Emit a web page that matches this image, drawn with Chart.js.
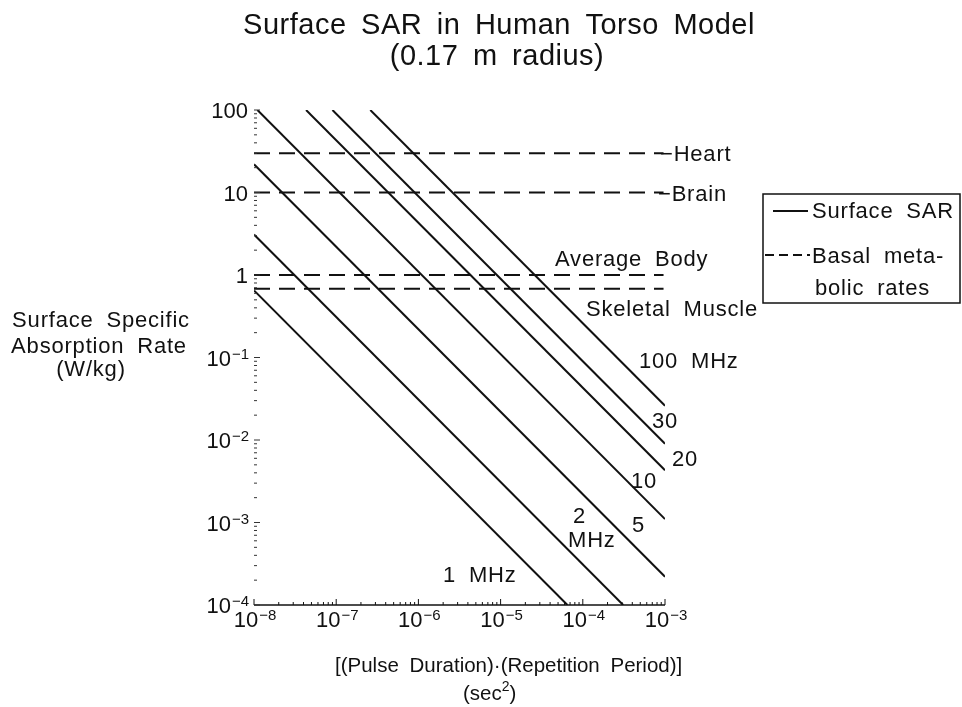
<!DOCTYPE html>
<html>
<head>
<meta charset="utf-8">
<script src="https://cdn.jsdelivr.net/npm/chart.js@4/dist/chart.umd.min.js"></script>
<style>
  html, body { margin: 0; padding: 0; background: #fff; }
  #wrap { width: 962px; height: 707px; position: relative; }
</style>
</head>
<body>
<div id="wrap"><canvas id="c" width="962" height="707"></canvas></div>
<script>
// ---- data ----
const freqLabels = ['1 MHz', '2 MHz', '5 MHz', '10 MHz', '20 MHz', '30 MHz', '100 MHz'];
const sarStartX = [1e-8, 1e-8, 1e-8, 1.1e-8, 4.3e-8, 9e-8, 2.6e-7];
const sarStartY = [0.65, 3.1, 22, 100, 100, 100, 100];
const sarEndX   = [6.5e-5, 3.1e-4, 1e-3, 1e-3, 1e-3, 1e-3, 1e-3];
const sarEndY   = [1e-4, 1e-4, 2.2e-4, 1.1e-3, 4.3e-3, 9e-3, 2.6e-2];

const tissueNames = ['Heart', 'Brain', 'Average Body', 'Skeletal Muscle'];
const tissueRates = [30, 10, 1, 0.68];
const basalStartX = 1e-8;
const basalEndX = 9.6e-4;

const xTickExps = [-8, -7, -6, -5, -4, -3];
const yTickExps = [2, 1, 0, -1, -2, -3, -4];

const titleLines = ['Surface SAR in Human Torso Model', '(0.17 m radius)'];
const yTitleLines = ['Surface Specific', 'Absorption Rate', '(W/kg)'];
const xTitleLine = '[(Pulse Duration)\u00B7(Repetition Period)]';
const legendItems = ['Surface SAR', 'Basal meta-', 'bolic rates'];

// ---- chart ----
const FONT = '"Liberation Sans", Arial, Helvetica, sans-serif';
const INK = '#111';

const datasets = [];
freqLabels.forEach((lab, i) => {
  datasets.push({
    label: lab,
    data: [{x: sarStartX[i], y: sarStartY[i]}, {x: sarEndX[i], y: sarEndY[i]}],
    showLine: true, borderColor: INK, borderWidth: 2, pointRadius: 0, fill: false
  });
});
tissueNames.forEach((lab, i) => {
  datasets.push({
    label: lab,
    data: [{x: basalStartX, y: tissueRates[i]}, {x: basalEndX, y: tissueRates[i]}],
    showLine: true, borderColor: INK, borderWidth: 2, borderDash: [16, 9], pointRadius: 0, fill: false
  });
});

function txt(ctx, s, x, y, size, opt) {
  opt = opt || {};
  ctx.save();
  ctx.font = size + 'px ' + FONT;
  ctx.fillStyle = INK;
  ctx.textAlign = opt.align || 'left';
  ctx.textBaseline = 'alphabetic';
  ctx.letterSpacing = (opt.ls || 0) + 'px';
  ctx.wordSpacing = (opt.ws || 0) + 'px';
  ctx.fillText(s, x, y);
  ctx.restore();
}

function powerLabel(ctx, exp, x, y, align) {
  // draws 10^exp ; align: 'right' (x = right edge) or 'center'
  const base = '10', sup = '\u2212' + Math.abs(exp);
  ctx.save();
  ctx.font = '22px ' + FONT;
  const wb = ctx.measureText(base).width;
  ctx.font = '15px ' + FONT;
  const ws = ctx.measureText(sup).width;
  ctx.restore();
  const total = wb + 1 + ws;
  let left = align === 'right' ? x - total : x - total / 2;
  txt(ctx, base, left, y, 22);
  txt(ctx, sup, left + wb + 1, y - 7, 15);
}

const decor = {
  id: 'decor',
  afterDraw(chart) {
    const ctx = chart.ctx;
    const xs = chart.scales.x, ys = chart.scales.y;
    const x0 = xs.getPixelForValue(1e-8), x1 = xs.getPixelForValue(1e-3);
    const yb = ys.getPixelForValue(1e-4);
    ctx.save();
    ctx.strokeStyle = INK;
    // bottom axis line
    ctx.lineWidth = 1.5;
    ctx.beginPath(); ctx.moveTo(x0, yb); ctx.lineTo(x1, yb); ctx.stroke();
    ctx.lineWidth = 1;
    // x ticks (inward)
    for (let e = -8; e <= -3; e++) {
      for (let m = 1; m <= 9; m++) {
        if (e === -3 && m > 1) break;
        const px = xs.getPixelForValue(m * Math.pow(10, e));
        const len = m === 1 ? 6 : 3;
        ctx.beginPath(); ctx.moveTo(px, yb); ctx.lineTo(px, yb - len); ctx.stroke();
      }
    }
    // y ticks (inward, no axis line)
    ctx.strokeStyle = '#333';
    for (let e = -4; e <= 2; e++) {
      for (let m = 1; m <= 9; m++) {
        if (e === 2 && m > 1) break;
        const py = ys.getPixelForValue(m * Math.pow(10, e));
        const len = m === 1 ? 6 : 3;
        ctx.beginPath(); ctx.moveTo(x0, py); ctx.lineTo(x0 + len, py); ctx.stroke();
      }
    }
    ctx.restore();

    // y tick labels
    yTickExps.forEach(e => {
      const py = ys.getPixelForValue(Math.pow(10, e)) + 8;
      if (e >= 0) txt(ctx, String(Math.pow(10, e)), 248, py, 22, {align: 'right'});
      else powerLabel(ctx, e, 249, py, 'right');
    });
    // x tick labels
    xTickExps.forEach(e => {
      const px = xs.getPixelForValue(Math.pow(10, e));
      powerLabel(ctx, e, px + 1, 627, 'center');
    });

    // title
    txt(ctx, titleLines[0], 499, 34, 29, {align: 'center', ls: 0.5, ws: 6});
    txt(ctx, titleLines[1], 497, 65, 29, {align: 'center', ls: 0.5, ws: 6});

    // y title
    txt(ctx, yTitleLines[0], 101, 327, 22, {align: 'center', ls: 0.8, ws: 6});
    txt(ctx, yTitleLines[1], 99, 353, 22, {align: 'center', ls: 0.8, ws: 6});
    txt(ctx, yTitleLines[2], 91, 376, 22, {align: 'center', ls: 0.8, ws: 6});

    // x title
    txt(ctx, xTitleLine, 335, 672, 20.5, {ws: 5});
    ctx.save();
    ctx.font = '20.5px ' + FONT;
    const wsec = ctx.measureText('(sec').width;
    ctx.font = '14px ' + FONT;
    const w2 = ctx.measureText('2').width;
    ctx.restore();
    txt(ctx, '(sec', 463, 700, 20.5);
    txt(ctx, '2', 463 + wsec, 691, 14);
    txt(ctx, ')', 463 + wsec + w2, 700, 20.5);

    // basal rate labels
    const yH = ys.getPixelForValue(tissueRates[0]);
    const yBr = ys.getPixelForValue(tissueRates[1]);
    txt(ctx, '\u2212' + tissueNames[0], 660, yH + 8, 22, {ls: 0.8});
    txt(ctx, '\u2212' + tissueNames[1], 658, yBr + 8, 22, {ls: 0.8});
    txt(ctx, tissueNames[2], 555, 266, 22, {ls: 0.8, ws: 6});
    txt(ctx, tissueNames[3], 586, 316, 22, {ls: 0.8, ws: 6});

    // frequency labels
    txt(ctx, '100 MHz', 639, 368, 22, {ls: 0.8, ws: 6});
    txt(ctx, '30', 652, 428, 22, {ls: 0.8});
    txt(ctx, '20', 672, 466, 22, {ls: 0.8});
    txt(ctx, '10', 631, 488, 22, {ls: 0.8});
    txt(ctx, '5', 632, 532, 22, {ls: 0.8});
    txt(ctx, '2', 573, 523, 22, {ls: 0.8});
    txt(ctx, 'MHz', 568, 547, 22, {ls: 0.8});
    txt(ctx, '1 MHz', 443, 582, 22, {ls: 0.8, ws: 6});

    // legend box
    ctx.save();
    ctx.strokeStyle = INK;
    ctx.lineWidth = 1.5;
    ctx.strokeRect(763, 194, 197, 109);
    ctx.lineWidth = 2;
    ctx.beginPath(); ctx.moveTo(773, 211); ctx.lineTo(808, 211); ctx.stroke();
    ctx.setLineDash([9, 5]);
    ctx.beginPath(); ctx.moveTo(765, 255); ctx.lineTo(810, 255); ctx.stroke();
    ctx.restore();
    txt(ctx, legendItems[0], 812, 218, 22, {ls: 0.8, ws: 6});
    txt(ctx, legendItems[1], 812, 263, 22, {ls: 0.8, ws: 6});
    txt(ctx, legendItems[2], 815, 295, 22, {ls: 0.8, ws: 6});
  }
};

new Chart(document.getElementById('c'), {
  type: 'scatter',
  data: { datasets },
  options: {
    responsive: false,
    animation: false,
    layout: { padding: { left: 254, right: 297, top: 110, bottom: 102 } },
    scales: {
      x: { type: 'logarithmic', min: 1e-8, max: 1e-3, display: false },
      y: { type: 'logarithmic', min: 1e-4, max: 100, display: false }
    },
    plugins: { legend: { display: false }, tooltip: { enabled: false }, title: { display: false } },
    elements: { point: { radius: 0 }, line: { tension: 0 } }
  },
  plugins: [decor]
});
</script>
</body>
</html>
